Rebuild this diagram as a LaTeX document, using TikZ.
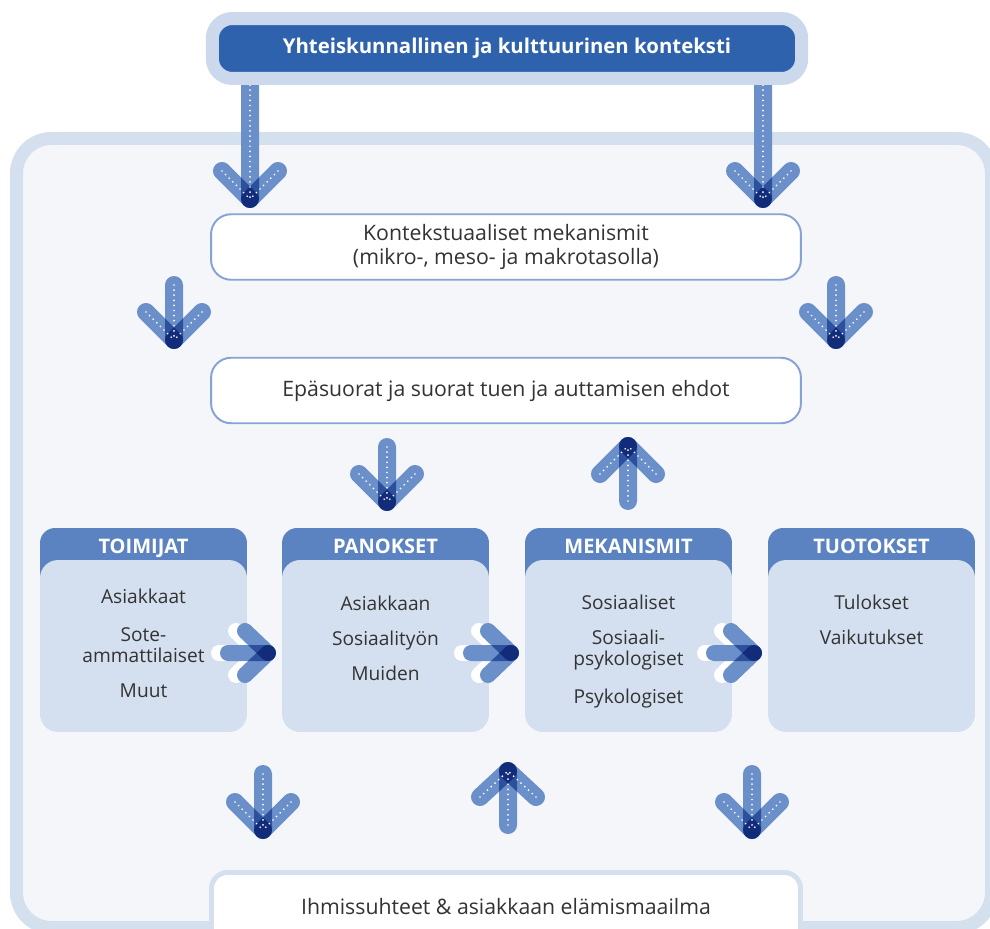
\documentclass[tikz,border=0pt]{standalone}
\usepackage{fontspec}
\setmainfont{Open Sans}
\usepackage{xcolor}
\definecolor{framelight}{HTML}{D5E0EE}
\definecolor{framebg}{HTML}{F4F6FA}
\definecolor{ctxlight}{HTML}{CCD9EC}
\definecolor{ctxblue}{HTML}{2F62AD}
\definecolor{boxline}{HTML}{86A3D6}
\definecolor{headblue}{HTML}{5B83C1}
\definecolor{bodyblue}{HTML}{D4E0EF}
\definecolor{flowblue}{HTML}{6B8FC8}
\definecolor{textgray}{HTML}{333333}
\newcommand{\boxfont}{\fontsize{10.9pt}{13.6pt}\selectfont}
\newcommand{\levelfont}{\fontsize{12.1pt}{13.6pt}\selectfont}
\tikzset{
  framebox/.style={draw=framelight, fill=framebg, line width=7.4pt, rounded corners=0.7cm},
  ctxnode/.style={draw=ctxlight, fill=ctxblue, line width=7.4pt, rounded corners=0.4cm,
    minimum width=11.79cm, minimum height=1.2cm, text=white, font=\fontsize{11.6pt}{13pt}\selectfont\bfseries},
  levelbox/.style={draw=boxline, fill=white, line width=1.1pt, rounded corners=0.4cm,
    minimum width=11.8cm, minimum height=1.31cm, align=center, text=textgray, font=\levelfont},
  headbox/.style={fill=headblue, rounded corners=0.3cm, minimum width=4.14cm, minimum height=1.44cm},
  bodybox/.style={fill=bodyblue, rounded corners=0.36cm, minimum width=4.14cm, minimum height=3.44cm},
  headtext/.style={anchor=base, text=white, font=\fontsize{11.4pt}{13pt}\selectfont\bfseries},
  coltext/.style={anchor=base, text=textgray, font=\boxfont},
  flowline/.style={draw=flowblue, line width=0.36cm, line cap=round},
  flowthin/.style={draw=flowblue, line width=0.32cm, line cap=round},
  flowshadow/.style={draw=white, line width=0.32cm, line cap=round},
  flowdots/.style={draw=white, line width=1.1pt, line cap=round, dash pattern=on 0pt off 2.9pt},
}
% vertical arrow: x, tip y, arm end y, shaft end y
\newcommand{\vflow}[4]{%
  \begin{scope}[blend group=multiply]
    \draw[flowline] (#1,#4) -- (#1,#2);
    \draw[flowline] (#1-28,#3) -- (#1,#2);
    \draw[flowline] (#1+28,#3) -- (#1,#2);
  \end{scope}
  \draw[flowdots] (#1,#4) -- (#1,#2);
  \draw[flowdots] (#1-28,#3) -- (#1,#2);
  \draw[flowdots] (#1+28,#3) -- (#1,#2);
}
% horizontal arrow: tip x, y
\newcommand{\hflow}[2]{%
  \draw[flowshadow] (#1-49,#2) -- (#1-9,#2);
  \draw[flowshadow] (#1-32,#2-22) -- (#1-9,#2);
  \draw[flowshadow] (#1-32,#2+22) -- (#1-9,#2);
  \begin{scope}[blend group=multiply]
    \draw[flowthin] (#1-40,#2) -- (#1,#2);
    \draw[flowthin] (#1-23,#2-22) -- (#1,#2);
    \draw[flowthin] (#1-23,#2+22) -- (#1,#2);
  \end{scope}
}

\begin{document}
\begin{tikzpicture}[x=0.02cm,y=-0.02cm]
  \useasboundingbox (0,0) rectangle (990,929);
  \clip (0,0) rectangle (990,929);
  \fill[white] (0,0) rectangle (990,929);

  % frame
  \draw[framebox] (16.5,138.5) rectangle (991.5,927.5);

  % context arrows
  \vflow{250}{199}{171}{80}
  \vflow{763}{199}{171}{80}
  \node[ctxnode] (ctx) at (507,48.5) {Yhteiskunnallinen ja kulttuurinen konteksti};

  % levels
  \node[levelbox] (kont) at (506,247) {Kontekstuaaliset mekanismit\\(mikro-, meso- ja makrotasolla)};
  \node[levelbox] (ehdot) at (506,390.5) {Epäsuorat ja suorat tuen ja auttamisen ehdot};
  \vflow{174}{340}{312}{285}
  \vflow{836}{340}{312}{285}
  \vflow{387}{502}{474}{447}
  \vflow{628}{446}{474}{501}

  % columns
  \node[headbox] (toimh) at (143.5,564) {};
  \node[bodybox] (toimb) at (143.5,646) {};
  \node[headbox] (panoh) at (385.5,564) {};
  \node[bodybox] (panob) at (385.5,646) {};
  \node[headbox] (mekah) at (628.5,564) {};
  \node[bodybox] (mekab) at (628.5,646) {};
  \node[headbox] (tuoth) at (871.5,564) {};
  \node[bodybox] (tuotb) at (871.5,646) {};

  \node[headtext] (toim) at (143.5,553) {TOIMIJAT};
  \node[headtext] (pano) at (385.5,553) {PANOKSET};
  \node[headtext] (meka) at (628.5,553) {MEKANISMIT};
  \node[headtext] (tuot) at (871.5,553) {TUOTOKSET};

  \node[coltext] (asiakkaat) at (143.5,603) {Asiakkaat};
  \node[coltext] (sote) at (143.5,641) {Sote-};
  \node[coltext] (ammat) at (143.5,662) {ammattilaiset};
  \node[coltext] (muut) at (143.5,697) {Muut};

  \node[coltext] (asiakkaan) at (385.5,610) {Asiakkaan};
  \node[coltext] (sostyo) at (385.5,645) {Sosiaalityön};
  \node[coltext] (muiden) at (385.5,680) {Muiden};

  \node[coltext] (sosiaaliset) at (628.5,609) {Sosiaaliset};
  \node[coltext] (sospsy) at (628.5,644) {Sosiaali-};
  \node[coltext] (psyk) at (628.5,665) {psykologiset};
  \node[coltext] (psykologiset) at (628.5,703) {Psykologiset};

  \node[coltext] (tulokset) at (871.5,609) {Tulokset};
  \node[coltext] (vaikutukset) at (871.5,644) {Vaikutukset};

  \hflow{268}{653}
  \hflow{511}{653}
  \hflow{754}{653}

  % lower arrows
  \vflow{263}{830}{802}{774}
  \vflow{508}{771}{797}{825}
  \vflow{752}{830}{802}{774}

  % life world
  \draw[draw=framelight, fill=white, line width=2.8pt, rounded corners=0.32cm] (211.5,872.5) rectangle (800.5,980);
  \node[anchor=base, text=textgray, font=\levelfont] (life) at (506,914) {Ihmissuhteet \& asiakkaan elämismaailma};
\end{tikzpicture}
\end{document}
